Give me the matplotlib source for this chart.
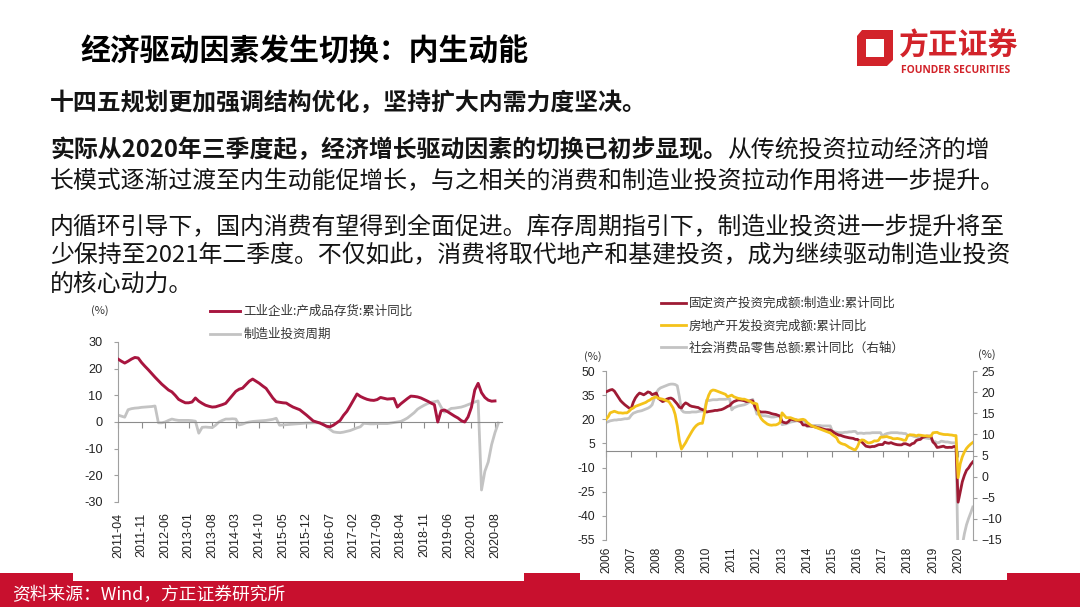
import matplotlib
matplotlib.use('Agg')
import matplotlib.pyplot as plt
from matplotlib.patches import Rectangle, Polygon
from matplotlib.font_manager import FontProperties
import pandas as pd

CJK = ['Noto Sans CJK SC', 'DejaVu Sans']
NUM = ['Liberation Sans', 'DejaVu Sans']
plt.rcParams['font.family'] = NUM
plt.rcParams['axes.unicode_minus'] = False

# ---------------- left chart data (monthly from 2011-04) ----------------
left_start = '2011-04'
inv_yoy = [  # 工业企业:产成品存货:累计同比
    23.6, 22.8, 22.1, 22.8, 23.6, 24.2, 24.0, 22.3, 20.9, 19.6, 18.2, 16.8,
    15.5, 14.2, 13.1, 12.0, 11.3, 10.0, 8.5, 7.8, 7.2, 7.2, 7.5, 9.0,
    7.8, 7.0, 6.3, 5.9, 5.6, 5.7, 6.1, 6.5, 7.0, 8.5, 10.0, 11.5,
    12.3, 12.7, 14.0, 15.3, 16.1, 15.3, 14.5, 13.5, 12.6, 10.8, 9.0, 7.6,
    7.4, 7.2, 7.1, 6.3, 5.6, 5.1, 4.6, 3.6, 2.6, 1.5, 0.4, 0.0,
    -0.4, -1.0, -1.6, -1.8, -1.2, -0.3, 0.6, 2.5, 4.0, 6.1, 8.3, 10.5,
    9.6, 9.0, 8.5, 8.2, 8.1, 8.4, 9.2, 8.9, 8.6, 8.7, 8.8, 5.6,
    6.8, 7.8, 8.8, 9.7, 9.6, 9.4, 9.0, 8.4, 7.8, 7.1, 6.5, 0.0,
    4.2, 4.5, 3.8, 3.0, 2.2, 1.5, 0.5, 0.0, 1.9, 5.5, 12.0, 14.5,
    11.0, 9.2, 8.2, 7.8, 7.9]
mfg_cycle = [  # 制造业投资周期
    2.6, 2.2, 1.8, 4.6, 5.0, 5.2, 5.3, 5.5, 5.6, 5.7, 5.8, 6.0,
    -0.3, -0.3, 0.0, 0.6, 1.1, 0.8, 0.6, 0.6, 0.6, 0.6, 0.5, 0.3,
    -4.2, -2.0, -1.9, -2.0, -2.1, -1.2, 0.0, 0.6, 1.1, 1.1, 1.2, 1.1,
    -1.1, -0.8, -0.3, 0.0, 0.2, 0.3, 0.4, 0.5, 0.6, 0.8, 1.0, 1.4,
    -1.2, -1.1, -1.0, -0.9, -0.8, -0.7, -0.6, -0.5, -0.4, -0.4, -0.3, -0.3,
    -0.3, -0.8, -1.8, -2.8, -3.7, -3.9, -4.0, -3.8, -3.5, -3.2, -2.7, -2.2,
    -1.8, -0.5, -0.6, -0.7, -0.7, -0.6, -0.6, -0.6, -0.6, -0.4, -0.2, 0.0,
    0.2, 0.8, 1.5, 2.5, 3.5, 4.8, 5.6, 6.3, 6.9, 7.4, 7.6, 7.9,
    5.6, 3.7, 4.3, 5.1, 5.2, 5.4, 5.6, 6.0, 6.5, 7.0, 7.5, 7.9,
    -25.5, -18.5, -15.0, -8.5, -4.0, -0.4]
left_ticks = ['2011-04', '2011-11', '2012-06', '2013-01', '2013-08', '2014-03',
              '2014-10', '2015-05', '2015-12', '2016-07', '2017-02', '2017-09',
              '2018-04', '2018-11', '2019-06', '2020-01', '2020-08']
left_yticks = [30, 20, 10, 0, -10, -20, -30]
left_labels = ['工业企业:产成品存货:累计同比', '制造业投资周期']

# ---------------- right chart data (monthly from 2006-02) ----------------
right_start = '2006-02'
fai_mfg = [  # 固定资产投资完成额:制造业:累计同比
    37.0, 37.6, 38.2, 38.5, 37.5, 35.5, 33.5, 31.5, 30.2, 29.0, 28.0,
    27.0, 26.5, 30.5, 33.2, 35.0, 36.3, 35.8, 35.2, 36.0, 37.0, 36.6, 35.3,
    35.8, 36.3, 33.0, 32.0, 31.0, 31.5, 32.5, 33.0, 33.2, 32.5, 31.0, 29.5,
    27.5, 27.0, 29.0, 30.2, 29.5, 28.5, 28.0, 27.8, 27.5, 27.3, 26.5, 26.0,
    25.5, 24.5, 24.8, 25.0, 25.2, 25.5, 25.5, 25.8, 26.0, 26.5, 27.2, 28.0,
    28.5, 30.0, 31.0, 31.5, 32.0, 32.0, 31.8, 31.5, 31.0, 31.2, 31.5, 31.5,
    28.0, 25.8, 25.0, 24.5, 24.5, 24.5, 24.3, 24.0, 23.5, 23.2, 23.0, 22.5,
    22.0, 18.5, 18.0, 17.7, 18.5, 20.0, 19.8, 19.5, 19.5, 19.0, 18.5, 16.5,
    16.5, 16.0, 15.9, 15.7, 15.5, 15.2, 14.8, 14.6, 14.2, 13.8, 13.5, 13.5,
    13.3, 12.5, 11.5, 10.8, 10.2, 10.0, 9.5, 9.1, 8.8, 8.5, 8.3, 8.1,
    7.5, 7.5, 6.4, 6.0, 4.6, 3.3, 3.0, 2.8, 3.1, 3.1, 3.6, 4.2,
    4.3, 4.3, 5.8, 5.3, 5.1, 5.5, 4.9, 4.5, 4.2, 4.1, 4.1, 4.8,
    4.8, 4.3, 3.8, 4.8, 5.2, 6.8, 7.3, 7.5, 8.7, 9.1, 9.5, 9.5,
    9.5, 5.9, 4.6, 2.5, 2.7, 3.0, 3.3, 2.6, 2.5, 2.6, 2.5, 3.1,
    3.1, -31.5, -25.2, -18.8, -14.8, -11.7, -10.2, -8.1, -6.5]
re_inv = [  # 房地产开发投资完成额:累计同比
    20.0, 21.5, 24.0, 24.5, 25.0, 24.5, 24.0, 24.0, 23.8, 24.0, 24.0,
    25.0, 26.4, 27.0, 28.0, 28.5, 29.0, 29.5, 30.0, 30.5, 31.4, 32.0, 33.0,
    33.5, 34.0, 33.0, 32.8, 32.5, 32.0, 31.5, 31.0, 29.0, 27.0, 23.0, 16.0,
    7.0, 1.5, 3.5, 5.5, 8.0, 10.3, 12.5, 14.5, 16.0, 17.0, 17.5, 17.5,
    24.0, 31.0, 35.0, 37.5, 38.2, 38.0, 37.5, 37.0, 36.5, 36.0, 35.5, 34.0,
    34.5, 35.0, 34.0, 33.5, 33.0, 32.8, 32.5, 32.5, 32.0, 31.5, 31.0, 30.0,
    30.0, 29.5, 23.0, 20.5, 19.0, 18.0, 17.0, 16.5, 16.3, 16.5, 16.5, 17.0,
    18.0, 24.0, 22.5, 21.0, 21.0, 21.0, 20.5, 20.0, 19.5, 19.5, 19.8, 20.0,
    19.5, 18.0, 17.0, 16.0, 15.5, 15.0, 14.5, 14.0, 13.5, 13.0, 12.5, 12.0,
    11.5, 10.4, 9.5, 8.5, 6.0, 5.1, 4.6, 4.3, 3.5, 2.6, 2.0, 1.3,
    1.0, 3.0, 6.2, 7.2, 7.0, 6.1, 5.3, 5.4, 5.8, 6.6, 6.5, 6.9,
    8.9, 8.9, 9.1, 9.3, 8.8, 8.5, 7.9, 7.9, 8.1, 7.8, 7.5, 7.0,
    7.0, 9.9, 10.4, 10.3, 10.2, 9.7, 10.2, 10.1, 9.9, 9.7, 9.7, 9.5,
    9.5, 11.6, 11.8, 11.9, 11.2, 10.9, 10.6, 10.5, 10.5, 10.3, 10.2, 9.9,
    9.9, -16.3, -7.7, -3.3, -0.3, 1.9, 3.4, 4.6, 5.6]
retail = [  # 社会消费品零售总额:累计同比（右轴）
    12.8, 13.0, 13.2, 13.3, 13.4, 13.4, 13.5, 13.5, 13.6, 13.7, 13.7,
    13.8, 14.5, 15.0, 15.2, 15.4, 15.5, 15.6, 15.8, 16.0, 16.2, 16.5, 17.0,
    18.5, 19.8, 20.6, 21.0, 21.2, 21.4, 21.6, 21.8, 21.9, 21.9, 21.8, 21.5,
    18.9, 15.8, 15.3, 15.2, 15.2, 15.2, 15.3, 15.3, 15.3, 15.4, 15.5, 15.5,
    15.6, 18.1, 18.0, 18.1, 18.2, 18.2, 18.2, 18.3, 18.3, 18.3, 18.3, 18.4,
    18.4, 15.8, 16.3, 16.5, 16.7, 16.8, 16.9, 17.0, 17.2, 17.5, 18.0, 18.3,
    16.5, 14.8, 14.8, 14.5, 14.4, 14.4, 14.3, 14.2, 14.1, 14.1, 14.2, 14.3,
    14.3, 12.3, 12.4, 12.5, 12.7, 12.9, 13.0, 13.1, 13.2, 13.2, 13.2, 13.1,
    13.1, 11.8, 12.0, 12.0, 12.1, 12.1, 12.1, 12.1, 12.0, 12.0, 12.0, 12.0,
    12.0, 10.7, 10.6, 10.5, 10.4, 10.4, 10.4, 10.5, 10.5, 10.6, 10.6, 10.7,
    10.7, 10.2, 10.3, 10.3, 10.2, 10.3, 10.3, 10.3, 10.4, 10.4, 10.4, 10.4,
    10.4, 9.5, 10.0, 10.2, 10.3, 10.4, 10.4, 10.4, 10.4, 10.3, 10.3, 10.2,
    10.2, 9.7, 9.8, 9.7, 9.5, 9.4, 9.3, 9.3, 9.3, 9.2, 9.1, 9.0,
    9.0, 8.2, 8.3, 8.0, 8.1, 8.4, 8.3, 8.2, 8.2, 8.1, 8.0, 8.0,
    8.0, -20.5, -19.0, -16.2, -13.5, -11.4, -9.9, -8.6, -7.2]
right_ticks = ['2006', '2007', '2008', '2009', '2010', '2011', '2012', '2013',
               '2014', '2015', '2016', '2017', '2018', '2019', '2020']
right_yticks_l = [50, 35, 20, 5, -10, -25, -40, -55]
right_yticks_r = [25, 20, 15, 10, 5, 0, -5, -10, -15]
right_labels = ['固定资产投资完成额:制造业:累计同比', '房地产开发投资完成额:累计同比',
                '社会消费品零售总额:累计同比（右轴）']

# ---------------- text ----------------
title = '经济驱动因素发生切换：内生动能'
para1 = '十四五规划更加强调结构优化，坚持扩大内需力度坚决。'
para2_bold = '实际从2020年三季度起，经济增长驱动因素的切换已初步显现。'
para2_rest = '从传统投资拉动经济的增'
para2_line2 = '长模式逐渐过渡至内生动能促增长，与之相关的消费和制造业投资拉动作用将进一步提升。'
para3 = ['内循环引导下，国内消费有望得到全面促进。库存周期指引下，制造业投资进一步提升将至',
         '少保持至2021年二季度。不仅如此，消费将取代地产和基建投资，成为继续驱动制造业投资',
         '的核心动力。']
source = '资料来源：Wind，方正证券研究所'

# ---------------- figure ----------------
W, H = 1080, 607
fig = plt.figure(figsize=(10.8, 6.07), dpi=100)
fig.patch.set_facecolor('white')
bg = fig.add_axes([0, 0, 1, 1])
bg.set_xlim(0, W); bg.set_ylim(H, 0); bg.axis('off')

def fx(p): return p / W
def fy(p): return 1 - p / H

RED = '#C8102E'
TXT = '#141414'
AX = '#A0A0A0'

# footer band
bg.add_patch(Rectangle((0, 573), W, 34, color=RED, lw=0, zorder=1))
bg.add_patch(Rectangle((73, 572), 451, 9, color='white', lw=0, zorder=2))
bg.add_patch(Rectangle((580, 572), 427, 8, color='white', lw=0, zorder=2))
bg.text(12, 595, source, color='white', fontsize=12.8, family=CJK, va='center', zorder=3)

# logo
bg.add_patch(Polygon([(862, 30), (893, 30), (893, 60), (887, 66), (857, 66), (857, 36)],
                     closed=True, color='#D2232A', lw=0, zorder=2))
bg.add_patch(Polygon([(866, 39), (884, 39), (884, 57), (866, 57)], closed=True,
                     color='white', lw=0, zorder=3))
bg.text(899, 46, '方正证券', color='#D2232A', fontsize=21.5, weight='bold', family=CJK,
        va='center', zorder=3)
bg.text(901, 70.5, 'FOUNDER SECURITIES', color='#D2232A', fontsize=7.4, weight='bold',
        family=['Open Sans', 'DejaVu Sans'], va='center', zorder=3)

# title and paragraphs
bg.text(80, 52, title, fontsize=21.5, weight='bold', family=CJK, color='black', va='center')
FS = 17.2
bg.text(50, 103, para1, fontsize=FS, weight='bold', family=CJK, color=TXT, va='center')
r = fig.canvas.get_renderer()
tb = bg.text(50, 150, para2_bold, fontsize=FS, weight='bold', family=CJK, color=TXT, va='center')
bb = tb.get_window_extent(renderer=r)
xend = bg.transData.inverted().transform((bb.x1, bb.y0))[0]
bg.text(xend, 150, para2_rest, fontsize=FS, family=CJK, color=TXT, va='center')
bg.text(50, 182, para2_line2, fontsize=FS, family=CJK, color=TXT, va='center')
for i, line in enumerate(para3):
    bg.text(50, 228 + i * 28, line, fontsize=FS, family=CJK, color=TXT, va='center')

# ---------------- left chart ----------------
def month_offsets(start, n):
    p0 = pd.Period(start, 'M')
    return [((p0 + i) - p0).n for i in range(n)]

lx_inv = month_offsets(left_start, len(inv_yoy))
lx_cyc = month_offsets(left_start, len(mfg_cycle))
ltick_pos = [(pd.Period(t, 'M') - pd.Period(left_start, 'M')).n for t in left_ticks]

ax1 = fig.add_axes([fx(118), fy(502), 383.7 / W, 160 / H])
ax1.patch.set_visible(False)
l_cyc, = ax1.plot(lx_cyc, mfg_cycle, color='#C3C3C3', lw=2.0, zorder=2)
l_inv, = ax1.plot(lx_inv, inv_yoy, color='#A8153F', lw=2.1, zorder=3)
ax1.set_xlim(0, 114)
ax1.set_ylim(-30, 30)
ax1.set_yticks(left_yticks)
ax1.set_yticklabels([str(v) for v in left_yticks], fontsize=9.2, color='#222222')
ax1.tick_params(axis='y', length=3, color=AX, pad=8)
for s in ['top', 'right']:
    ax1.spines[s].set_visible(False)
ax1.spines['left'].set_color(AX)
ax1.spines['bottom'].set_position(('data', 0))
ax1.spines['bottom'].set_color('#8C8C8C')
ax1.set_xticks(ltick_pos)
ax1.tick_params(axis='x', length=4, color='#8C8C8C', labelbottom=False)
sec1 = ax1.secondary_xaxis('bottom')
sec1.set_xticks(ltick_pos)
sec1.set_xticklabels(left_ticks, rotation=90, fontsize=9, color='#222222')
sec1.tick_params(length=0, pad=7.5)
sec1.spines['bottom'].set_visible(False)

bg.text(100, 311, '(%)', fontsize=8, family=CJK, color='#333333', ha='center', va='center')
fig.legend([l_inv, l_cyc], left_labels, loc='upper left',
           bbox_to_anchor=(fx(210), fy(305)), bbox_transform=fig.transFigure,
           frameon=False, prop=FontProperties(family=CJK, size=9),
           handlelength=2.4, handletextpad=0.3, labelspacing=0.8,
           borderpad=0, borderaxespad=0, labelcolor='#333333')

# ---------------- right chart ----------------
rx = month_offsets(right_start, len(fai_mfg))
rtick_pos = [(pd.Period(t + '-02', 'M') - pd.Period(right_start, 'M')).n for t in right_ticks]

ax2 = fig.add_axes([fx(606), fy(540), 367 / W, 169 / H])
ax2r = ax2.twinx()
ax2.set_zorder(ax2r.get_zorder() + 1)
ax2.patch.set_visible(False)
ax2r.patch.set_visible(False)
l_ret, = ax2r.plot(rx, retail, color='#C3C3C3', lw=2.0)
l_fai, = ax2.plot(rx, fai_mfg, color='#9E1B34', lw=2.0, zorder=3)
l_re, = ax2.plot(rx, re_inv, color='#F4C21A', lw=2.0, zorder=4)
ax2.set_xlim(0, 175.1)
ax2.set_ylim(-55, 50)
ax2r.set_ylim(-15, 25)
ax2.set_yticks(right_yticks_l)
ax2.set_yticklabels([str(v) for v in right_yticks_l], fontsize=8.8, color='#222222')
ax2r.set_yticks(right_yticks_r)
ax2r.set_yticklabels([str(v).replace('-', '\u2212') for v in right_yticks_r],
                     fontsize=8.8, color='#222222')
ax2.tick_params(axis='y', length=3, color=AX, pad=5)
ax2r.tick_params(axis='y', length=3, color=AX, pad=3)
for s in ['top', 'right']:
    ax2.spines[s].set_visible(False)
for s in ['top', 'left', 'bottom']:
    ax2r.spines[s].set_visible(False)
ax2.spines['left'].set_color(AX)
ax2r.spines['right'].set_color(AX)
ax2.spines['bottom'].set_position(('data', 0))
ax2.spines['bottom'].set_color('#8C8C8C')
ax2.set_xticks(rtick_pos)
ax2.tick_params(axis='x', length=4, color='#8C8C8C', labelbottom=False)
ax2r.tick_params(axis='x', length=0, labelbottom=False)
sec2 = ax2.secondary_xaxis('bottom')
sec2.set_xticks(rtick_pos)
sec2.set_xticklabels(right_ticks, rotation=90, fontsize=8.5, color='#222222')
sec2.tick_params(length=0, pad=5)
sec2.spines['bottom'].set_visible(False)

bg.text(593, 357, '(%)', fontsize=8, family=CJK, color='#333333', ha='center', va='center')
bg.text(987, 355, '(%)', fontsize=8, family=CJK, color='#333333', ha='center', va='center')
fig.legend([l_fai, l_re, l_ret], right_labels, loc='upper left',
           bbox_to_anchor=(fx(661), fy(297)), bbox_transform=fig.transFigure,
           frameon=False, prop=FontProperties(family=CJK, size=9),
           handlelength=2.0, handletextpad=0.2, labelspacing=0.75,
           borderpad=0, borderaxespad=0, labelcolor='#333333')

fig.savefig('out.png', dpi=100, facecolor='white')
